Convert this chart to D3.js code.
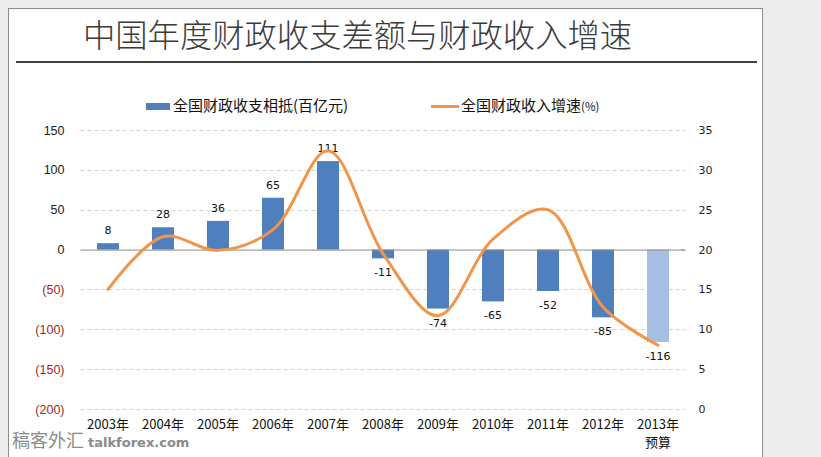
<!DOCTYPE html>
<html>
<head>
<meta charset="utf-8">
<script src="https://cdn.jsdelivr.net/npm/d3@7"></script>
<style>
  html, body { margin: 0; padding: 0; background: #ececec; }
  svg { display: block; }
</style>
</head>
<body>
<svg id="chart" width="821" height="457"></svg>
<script>
// ---------- data ----------
const categories = ["2003年","2004年","2005年","2006年","2007年","2008年","2009年","2010年","2011年","2012年","2013年"];
const balanceValues = [8, 28, 36, 65, 111, -11, -74, -65, -52, -85, -116];      // 全国财政收支相抵 (百亿元)
const growthValues = [15.0, 21.6, 19.9, 22.5, 32.4, 19.5, 11.7, 21.3, 25.0, 12.8, 8.0]; // 全国财政收入增速 (%)
const leftTicks = [150, 100, 50, 0, -50, -100, -150, -200];
const rightTicks = [35, 30, 25, 20, 15, 10, 5, 0];
const budgetIndex = 10;
const titleText = "中国年度财政收支差额与财政收入增速";
const legendBar = "全国财政收支相抵(百亿元)";
const legendLine = "全国财政收入增速";

// ---------- layout ----------
const svg = d3.select("#chart");
const plot = { left: 80.5, right: 685.5, top: 130, bottom: 409 };

// panel
svg.append("rect").attr("x", 8.5).attr("y", 8.5).attr("width", 754).attr("height", 460)
  .attr("fill", "#ffffff").attr("stroke", "#8c8c8c").attr("stroke-width", 1);

// title
svg.append("text").attr("x", 83).attr("y", 47)
  .attr("font-family", "'Noto Sans CJK SC', sans-serif").attr("font-size", 32.3)
  .attr("font-weight", 300)
  .attr("fill", "#3a3a3a").text(titleText);
svg.append("line").attr("x1", 16).attr("x2", 757).attr("y1", 62).attr("y2", 62)
  .attr("stroke", "#000").attr("stroke-width", 1.5);

// scales
const x = d3.scaleBand().domain(categories).range([plot.left, plot.right]).paddingInner(0.6).paddingOuter(0.3);
const xc = d => x(d) + x.bandwidth() / 2;
const yL = d3.scaleLinear().domain([-200, 150]).range([plot.bottom, plot.top]);
const yR = d3.scaleLinear().domain([0, 35]).range([plot.bottom, plot.top]);

// gridlines
svg.append("g").selectAll("line").data(leftTicks.filter(t => t !== 0)).join("line")
  .attr("x1", plot.left).attr("x2", plot.right)
  .attr("y1", d => Math.round(yL(d)) + 0.5).attr("y2", d => Math.round(yL(d)) + 0.5)
  .attr("stroke", "#d4d4d4").attr("stroke-dasharray", "4,3").attr("stroke-width", 1);

// left axis
const axL = svg.append("g").attr("transform", `translate(${plot.left},0)`)
  .call(d3.axisLeft(yL).tickValues(leftTicks).tickSize(0).tickPadding(16)
    .tickFormat(d => d < 0 ? `(${-d})` : `${d}`));
axL.select(".domain").remove();
axL.selectAll("text")
  .attr("font-family", "'Liberation Sans', Arial, sans-serif").attr("font-size", 12.5)
  .attr("fill", d => d < 0 ? "#a3262a" : "#222");

// right axis
const axR = svg.append("g").attr("transform", `translate(${plot.right},0)`)
  .call(d3.axisRight(yR).tickValues(rightTicks).tickSize(3).tickPadding(10));
axR.select(".domain").remove();
axR.selectAll("line").attr("stroke", d => d === 20 ? "#888" : "#e0e0e0").attr("transform", "translate(-4,0)");
axR.selectAll("text")
  .attr("font-family", "'DejaVu Sans', Verdana, sans-serif").attr("font-size", 11)
  .attr("fill", "#222");

// bars
svg.append("g").selectAll("rect").data(balanceValues).join("rect")
  .attr("x", (d, i) => x(categories[i]))
  .attr("width", x.bandwidth())
  .attr("y", d => Math.min(yL(d), yL(0)))
  .attr("height", d => Math.abs(yL(d) - yL(0)))
  .attr("fill", (d, i) => i === budgetIndex ? "#a6bfe2" : "#4f7fbd");

// zero line
svg.append("line").attr("x1", plot.left).attr("x2", plot.right)
  .attr("y1", yL(0) + 0.5).attr("y2", yL(0) + 0.5)
  .attr("stroke", "#8a8a8a").attr("stroke-width", 1);

// bar labels
svg.append("g").selectAll("text").data(balanceValues).join("text")
  .attr("x", (d, i) => xc(categories[i]))
  .attr("y", d => d >= 0 ? yL(d) - 9 : yL(d) + 18)
  .attr("text-anchor", "middle")
  .attr("font-family", "'DejaVu Sans', Verdana, sans-serif").attr("font-size", 11)
  .attr("fill", "#111").text(d => d);

// growth line
const line = d3.line()
  .x((d, i) => xc(categories[i]))
  .y(d => yR(d))
  .curve(d3.curveCatmullRom.alpha(0.5));
svg.append("path").datum(growthValues).attr("d", line)
  .attr("fill", "none").attr("stroke", "#f0954a").attr("stroke-width", 3)
  .attr("stroke-linecap", "round").attr("stroke-linejoin", "round");

// x labels
svg.append("g").selectAll("text").data(categories).join("text")
  .attr("x", d => xc(d)).attr("y", 429)
  .attr("text-anchor", "middle")
  .attr("font-family", "'Noto Sans CJK SC', sans-serif").attr("font-size", 13)
  .attr("fill", "#111").text(d => d);
svg.append("text").attr("x", xc(categories[budgetIndex])).attr("y", 447)
  .attr("text-anchor", "middle")
  .attr("font-family", "'Noto Sans CJK SC', sans-serif").attr("font-size", 13)
  .attr("fill", "#111").text("预算");

// legend
const lg = svg.append("g");
lg.append("rect").attr("x", 146).attr("y", 103).attr("width", 24).attr("height", 7).attr("fill", "#4f7fbd");
lg.append("text").attr("x", 173).attr("y", 111)
  .attr("font-family", "'Noto Sans CJK SC', sans-serif").attr("font-size", 15)
  .attr("fill", "#111").text(legendBar);
lg.append("line").attr("x1", 431).attr("x2", 459).attr("y1", 106.5).attr("y2", 106.5)
  .attr("stroke", "#f0954a").attr("stroke-width", 3);
const lt = lg.append("text").attr("x", 461).attr("y", 111)
  .attr("font-family", "'Noto Sans CJK SC', sans-serif").attr("font-size", 15)
  .attr("fill", "#111");
lt.append("tspan").text(legendLine);
lt.append("tspan").attr("font-size", 11.5).text("(%)");

// watermark
const wm = svg.append("text").attr("x", 12).attr("y", 447).attr("fill", "#8a8a8a");
wm.append("tspan").attr("font-family", "'Noto Sans CJK SC', sans-serif").attr("font-size", 18)
  .attr("font-weight", 400).text("稿客外汇");
wm.append("tspan").attr("dx", 4).attr("font-family", "'DejaVu Sans', sans-serif").attr("font-size", 13)
  .attr("font-weight", 700).text("talkforex.com");
</script>
</body>
</html>
